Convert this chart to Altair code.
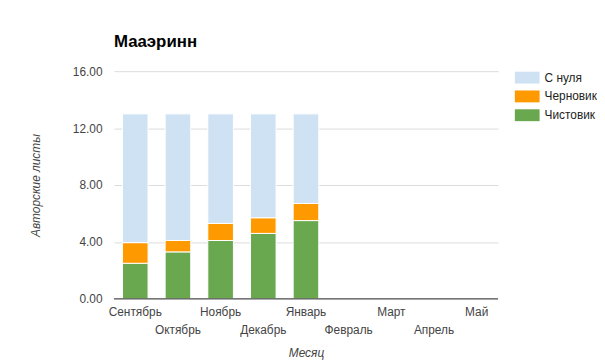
import altair as alt
import pandas as pd

months = ["Сентябрь", "Октябрь", "Ноябрь", "Декабрь", "Январь",
          "Февраль", "Март", "Апрель", "Май"]
series = ["С нуля", "Черновик", "Чистовик"]
colors = ["#cfe2f3", "#ff9900", "#6aa84f"]

chistovik = [2.5, 3.3, 4.1, 4.6, 5.5]
chernovik = [1.45, 0.8, 1.2, 1.1, 1.2]
s_nulya = [9.05, 8.9, 7.7, 7.3, 6.3]

rows = []
for i, m in enumerate(months[:5]):
    rows.append({"month": m, "series": "Чистовик", "value": chistovik[i], "ord": 0})
    rows.append({"month": m, "series": "Черновик", "value": chernovik[i], "ord": 1})
    rows.append({"month": m, "series": "С нуля", "value": s_nulya[i], "ord": 2})
df = pd.DataFrame(rows)

odd = "['Октябрь','Декабрь','Февраль','Апрель']"

chart = alt.Chart(df).mark_bar(stroke="white", strokeWidth=1).encode(
    x=alt.X("month:N", sort=months, scale=alt.Scale(domain=months, paddingInner=0.4, paddingOuter=0.2),
            title="Месяц",
            axis=alt.Axis(labelAngle=0, labelOverlap=False, ticks=False, domain=False,
                          labelExpr=f"indexof({odd}, datum.value) >= 0 ? ['', datum.value] : datum.value",
                          labelLineHeight=18, labelPadding=8, labelColor="#444",
                          labelFontSize=12, labelFont="Liberation Sans",
                          titleFontStyle="italic", titleFontWeight="normal", titleFontSize=12,
                          titleColor="#444", titleFont="Liberation Sans", titlePadding=12)),
    y=alt.Y("value:Q", stack="zero", scale=alt.Scale(domain=[0, 16], nice=False),
            title="Авторские листы",
            axis=alt.Axis(values=[0, 4, 8, 12, 16], format=".2f", ticks=False, domain=False,
                          gridColor="#dcdcdc", labelPadding=12, labelColor="#444",
                          labelFontSize=12, labelFont="Liberation Sans",
                          titleFontStyle="italic", titleFontWeight="normal", titleFontSize=12,
                          titleColor="#444", titleFont="Liberation Sans", titlePadding=30)),
    color=alt.Color("series:N", scale=alt.Scale(domain=series, range=colors),
                    legend=alt.Legend(title=None, orient="none", legendX=405, legendY=-6,
                                      symbolType="M-1,-0.48L1,-0.48L1,0.48L-1,0.48Z",
                                      symbolSize=625, symbolStrokeWidth=0, symbolOpacity=1,
                                      labelFontSize=12, labelFont="Liberation Sans",
                                      labelColor="#222", labelOffset=5, rowPadding=-1)),
    order=alt.Order("ord:Q", sort="ascending"),
)

zero = alt.Chart(pd.DataFrame({"z": [0]})).mark_rule(color="#333", strokeWidth=1).encode(y="z:Q")

final = alt.layer(chart, zero).properties(
    width=388, height=230,
    title=alt.TitleParams("Мааэринн", anchor="start", frame="group", fontSize=17,
                          font="Liberation Sans", fontWeight="bold", color="#000", offset=14),
    autosize=alt.AutoSizeParams(type="none"),
    padding={"left": 107, "top": 62, "right": 100, "bottom": 64},
).configure_view(stroke=None)

final.save("out.html", embed_options={"renderer": "svg", "actions": False})
